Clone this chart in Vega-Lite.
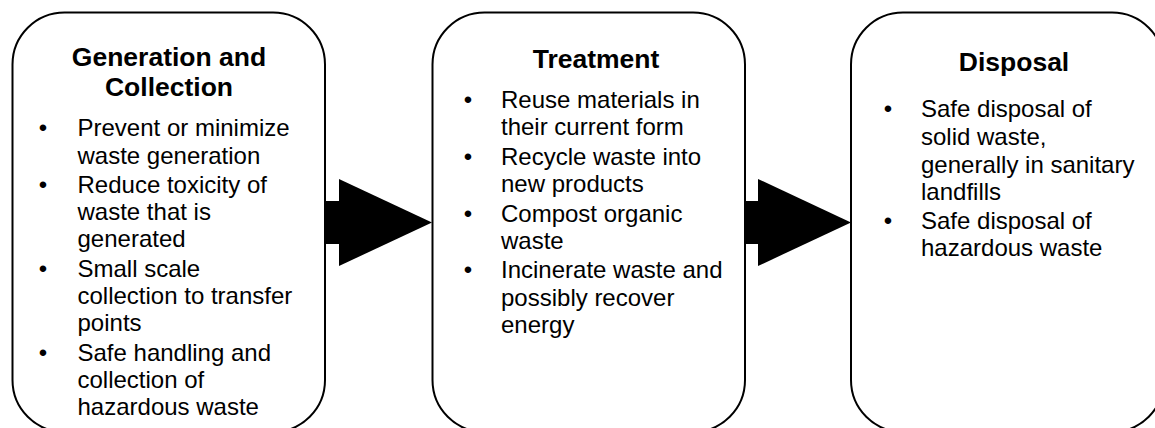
{
  "$schema": "https://vega.github.io/schema/vega-lite/v6.json",
  "width": 1155,
  "height": 428,
  "autosize": {"type": "fit", "contains": "padding"},
  "padding": 0,
  "background": "white",
  "config": {"view": {"stroke": null}},
  "datasets": {
    "boxes": [
      {"box": "Generation and Collection", "left": 12.5, "right": 325, "top": 12.5, "bottom": 432},
      {"box": "Treatment", "left": 432.5, "right": 745, "top": 12.5, "bottom": 432},
      {"box": "Disposal", "left": 851, "right": 1164, "top": 12.5, "bottom": 432}
    ],
    "shafts": [
      {"arrow": "a1", "x0": 326, "x1": 340, "y0": 201, "y1": 244},
      {"arrow": "a2", "x0": 745, "x1": 759, "y0": 201, "y1": 244}
    ],
    "heads": [
      {"arrow": "a1", "x": 339, "top": 179, "bot": 266},
      {"arrow": "a1", "x": 432, "top": 222.5, "bot": 222.5},
      {"arrow": "a2", "x": 758, "top": 179, "bot": 266},
      {"arrow": "a2", "x": 851, "top": 222.5, "bot": 222.5}
    ],
    "titles": [
      {"x": 169, "y": 66, "text": "Generation and"},
      {"x": 169, "y": 96, "text": "Collection"},
      {"x": 596, "y": 68, "text": "Treatment"},
      {"x": 1014, "y": 71, "text": "Disposal"}
    ],
    "bullets": [
      {"x": 43, "y": 136}, {"x": 43, "y": 193}, {"x": 43, "y": 277}, {"x": 43, "y": 361},
      {"x": 468, "y": 107.5}, {"x": 468, "y": 165}, {"x": 468, "y": 221.5}, {"x": 468, "y": 278},
      {"x": 888, "y": 117}, {"x": 888, "y": 228.5}
    ],
    "lines": [
      {"x": 77.5, "y": 136, "text": "Prevent or minimize"},
      {"x": 77.5, "y": 163.5, "text": "waste generation"},
      {"x": 77.5, "y": 193, "text": "Reduce toxicity of"},
      {"x": 77.5, "y": 220, "text": "waste that is"},
      {"x": 77.5, "y": 247, "text": "generated"},
      {"x": 77.5, "y": 277, "text": "Small scale"},
      {"x": 77.5, "y": 304, "text": "collection to transfer"},
      {"x": 77.5, "y": 331, "text": "points"},
      {"x": 77.5, "y": 361, "text": "Safe handling and"},
      {"x": 77.5, "y": 388, "text": "collection of"},
      {"x": 77.5, "y": 415, "text": "hazardous waste"},
      {"x": 501, "y": 107.5, "text": "Reuse materials in"},
      {"x": 501, "y": 135, "text": "their current form"},
      {"x": 501, "y": 165, "text": "Recycle waste into"},
      {"x": 501, "y": 192, "text": "new products"},
      {"x": 501, "y": 221.5, "text": "Compost organic"},
      {"x": 501, "y": 248.5, "text": "waste"},
      {"x": 501, "y": 278, "text": "Incinerate waste and"},
      {"x": 501, "y": 305.5, "text": "possibly recover"},
      {"x": 501, "y": 332.5, "text": "energy"},
      {"x": 921, "y": 117, "text": "Safe disposal of"},
      {"x": 921, "y": 145, "text": "solid waste,"},
      {"x": 921, "y": 172.5, "text": "generally in sanitary"},
      {"x": 921, "y": 199.5, "text": "landfills"},
      {"x": 921, "y": 228.5, "text": "Safe disposal of"},
      {"x": 921, "y": 256, "text": "hazardous waste"}
    ]
  },
  "layer": [
    {
      "data": {"name": "boxes"},
      "mark": {"type": "rect", "cornerRadius": 52, "fill": "white", "stroke": "black", "strokeWidth": 2, "clip": true},
      "encoding": {
        "x": {"field": "left", "type": "quantitative", "scale": {"domain": [0, 1155], "nice": false, "zero": false}, "axis": null},
        "x2": {"field": "right"},
        "y": {"field": "top", "type": "quantitative", "scale": {"domain": [0, 428], "nice": false, "zero": false, "reverse": true}, "axis": null},
        "y2": {"field": "bottom"}
      }
    },
    {
      "data": {"name": "shafts"},
      "mark": {"type": "rect", "fill": "black", "stroke": null},
      "encoding": {
        "x": {"field": "x0", "type": "quantitative"},
        "x2": {"field": "x1"},
        "y": {"field": "y0", "type": "quantitative"},
        "y2": {"field": "y1"}
      }
    },
    {
      "data": {"name": "heads"},
      "mark": {"type": "area", "color": "black", "opacity": 1, "orient": "vertical"},
      "encoding": {
        "x": {"field": "x", "type": "quantitative"},
        "y": {"field": "top", "type": "quantitative"},
        "y2": {"field": "bot"},
        "detail": {"field": "arrow", "type": "nominal"}
      }
    },
    {
      "data": {"name": "titles"},
      "mark": {"type": "text", "font": "Liberation Sans", "fontWeight": "bold", "fontSize": 26.5, "align": "center", "baseline": "alphabetic", "color": "black"},
      "encoding": {
        "x": {"field": "x", "type": "quantitative"},
        "y": {"field": "y", "type": "quantitative"},
        "text": {"field": "text"}
      }
    },
    {
      "data": {"name": "bullets"},
      "mark": {"type": "text", "font": "Liberation Sans", "fontSize": 24, "align": "center", "baseline": "alphabetic", "color": "black", "text": "•"},
      "encoding": {
        "x": {"field": "x", "type": "quantitative"},
        "y": {"field": "y", "type": "quantitative"}
      }
    },
    {
      "data": {"name": "lines"},
      "mark": {"type": "text", "font": "Liberation Sans", "fontSize": 24, "align": "left", "baseline": "alphabetic", "color": "black"},
      "encoding": {
        "x": {"field": "x", "type": "quantitative"},
        "y": {"field": "y", "type": "quantitative"},
        "text": {"field": "text"}
      }
    }
  ]
}
